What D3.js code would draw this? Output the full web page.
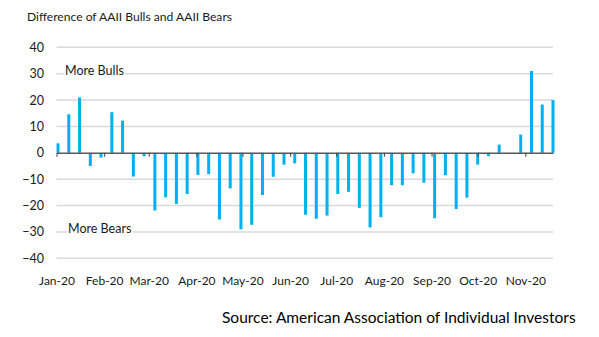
<!DOCTYPE html>
<html>
<head>
<meta charset="utf-8">
<script src="https://cdn.jsdelivr.net/npm/d3@7"></script>
<style>
  body { margin: 0; background: #fff; }
  svg { display: block; font-family: Lato, "Open Sans", sans-serif; }
</style>
</head>
<body>
<svg id="chart" width="599" height="337"></svg>
<script>
'use strict';

// weekly AAII survey dates (Thursdays)
const weeks = [
    '2020-01-02', '2020-01-09', '2020-01-16', '2020-01-23', '2020-01-30',
    '2020-02-06', '2020-02-13', '2020-02-20', '2020-02-27',
    '2020-03-05', '2020-03-12', '2020-03-19', '2020-03-26',
    '2020-04-02', '2020-04-09', '2020-04-16', '2020-04-23', '2020-04-30',
    '2020-05-07', '2020-05-14', '2020-05-21', '2020-05-28',
    '2020-06-04', '2020-06-11', '2020-06-18', '2020-06-25',
    '2020-07-02', '2020-07-09', '2020-07-16', '2020-07-23', '2020-07-30',
    '2020-08-06', '2020-08-13', '2020-08-20', '2020-08-27',
    '2020-09-03', '2020-09-10', '2020-09-17', '2020-09-24',
    '2020-10-01', '2020-10-08', '2020-10-15', '2020-10-22', '2020-10-29',
    '2020-11-05', '2020-11-12', '2020-11-19'
];

// bulls minus bears, percentage points
const spread = [
    3.6, 14.6, 21, -5, -1.8,
    15.4, 12.2, -9, -1.3,
    -21.9, -16.9, -19.4, -15.6,
    -8.4, -8.1, -25.3, -13.5, -29,
    -27.3, -16, -9.1, -4.5,
    -4, -23.5, -25, -23.8,
    -15.6, -14.8, -20.9, -28.3, -24.4,
    -12.3, -12.3, -7.8, -11.3,
    -24.8, -8.5, -21.3, -17,
    -4.5, -1.3, 3.1, 0, 6.9,
    31, 18.3, 20
];

const yTicks = [40, 30, 20, 10, 0, -10, -20, -30, -40];
const dateRange = ['2020-01-01', '2020-11-19'];

const parse = d3.timeParse('%Y-%m-%d');
const data = weeks.map((w, i) => ({date: parse(w), value: spread[i]}));

const svg = d3.select('#chart');

const left = 56.5, right = 553;

const x = d3.scaleTime()
    .domain(dateRange.map(parse))
    .range([left, right]);

const y = d3.scaleLinear()
    .domain([-40, 40])
    .range([258.3, 47.3]);

// gridlines
svg.append('g')
    .selectAll('line')
    .data(yTicks.filter(d => d !== 0))
    .enter()
    .append('line')
    .attr('x1', left)
    .attr('x2', right)
    .attr('y1', d => y(d))
    .attr('y2', d => y(d))
    .attr('stroke', '#d9d9d9')
    .attr('stroke-width', 1.5);

// y labels
const yAxis = d3.axisLeft(y)
    .tickValues(yTicks)
    .tickSize(0)
    .tickPadding(0)
    .tickFormat(d3.format('d'));

svg.append('g')
    .attr('transform', 'translate(44,0)')
    .call(yAxis)
    .call(g => g.select('.domain').remove())
    .call(g => g.selectAll('text')
        .attr('font-family', 'Lato, sans-serif')
        .attr('font-size', 12.5)
        .attr('fill', '#1a1a1a'));

// bars
svg.append('g')
    .selectAll('rect')
    .data(data)
    .enter()
    .append('rect')
    .attr('x', d => x(d.date) - 1.5)
    .attr('width', 3)
    .attr('y', d => y(Math.max(0, d.value)))
    .attr('height', d => Math.abs(y(d.value) - y(0)))
    .attr('fill', '#00b0f0');

// zero line with month ticks
const xAxis = d3.axisBottom(x)
    .ticks(d3.timeMonth.every(1))
    .tickSizeInner(4)
    .tickSizeOuter(0)
    .tickFormat('');

svg.append('g')
    .attr('transform', `translate(0,${y(0)})`)
    .call(xAxis)
    .call(g => g.select('.domain')
        .attr('stroke', '#595959')
        .attr('stroke-width', 1.5))
    .call(g => g.selectAll('.tick line').attr('stroke', '#404040'));

// month labels
const xLabels = d3.axisBottom(x)
    .ticks(d3.timeMonth.every(1))
    .tickSize(0)
    .tickPadding(0)
    .tickFormat(d3.timeFormat('%b-%y'));

svg.append('g')
    .attr('transform', 'translate(0,276)')
    .call(xLabels)
    .call(g => g.select('.domain').remove())
    .call(g => g.selectAll('text')
        .attr('font-family', 'Lato, sans-serif')
        .attr('font-size', 12)
        .attr('fill', '#1a1a1a'));

// annotations
const notes = [
    {text: 'More Bulls', value: 30},
    {text: 'More Bears', value: -30}
];
const noteX = [65, 68];

notes.forEach((n, i) => {
    const t = svg.append('text')
        .attr('x', noteX[i])
        .attr('y', y(n.value) + 1)
        .attr('font-size', 12.5)
        .attr('fill', '#1a1a1a')
        .text(n.text);
    const b = t.node().getBBox();
    svg.insert('rect', () => t.node())
        .attr('x', b.x - 1)
        .attr('y', b.y)
        .attr('width', b.width + 2)
        .attr('height', b.height)
        .attr('fill', '#fff');
});

svg.append('text')
    .attr('x', 27)
    .attr('y', 21)
    .attr('font-size', 12.1)
    .attr('fill', '#1a1a1a')
    .text('Difference of AAII Bulls and AAII Bears');

svg.append('text')
    .attr('x', 222)
    .attr('y', 323)
    .attr('font-size', 15.5)
    .attr('fill', '#000')
    .text('Source: American Association of Individual Investors');
</script>
</body>
</html>
